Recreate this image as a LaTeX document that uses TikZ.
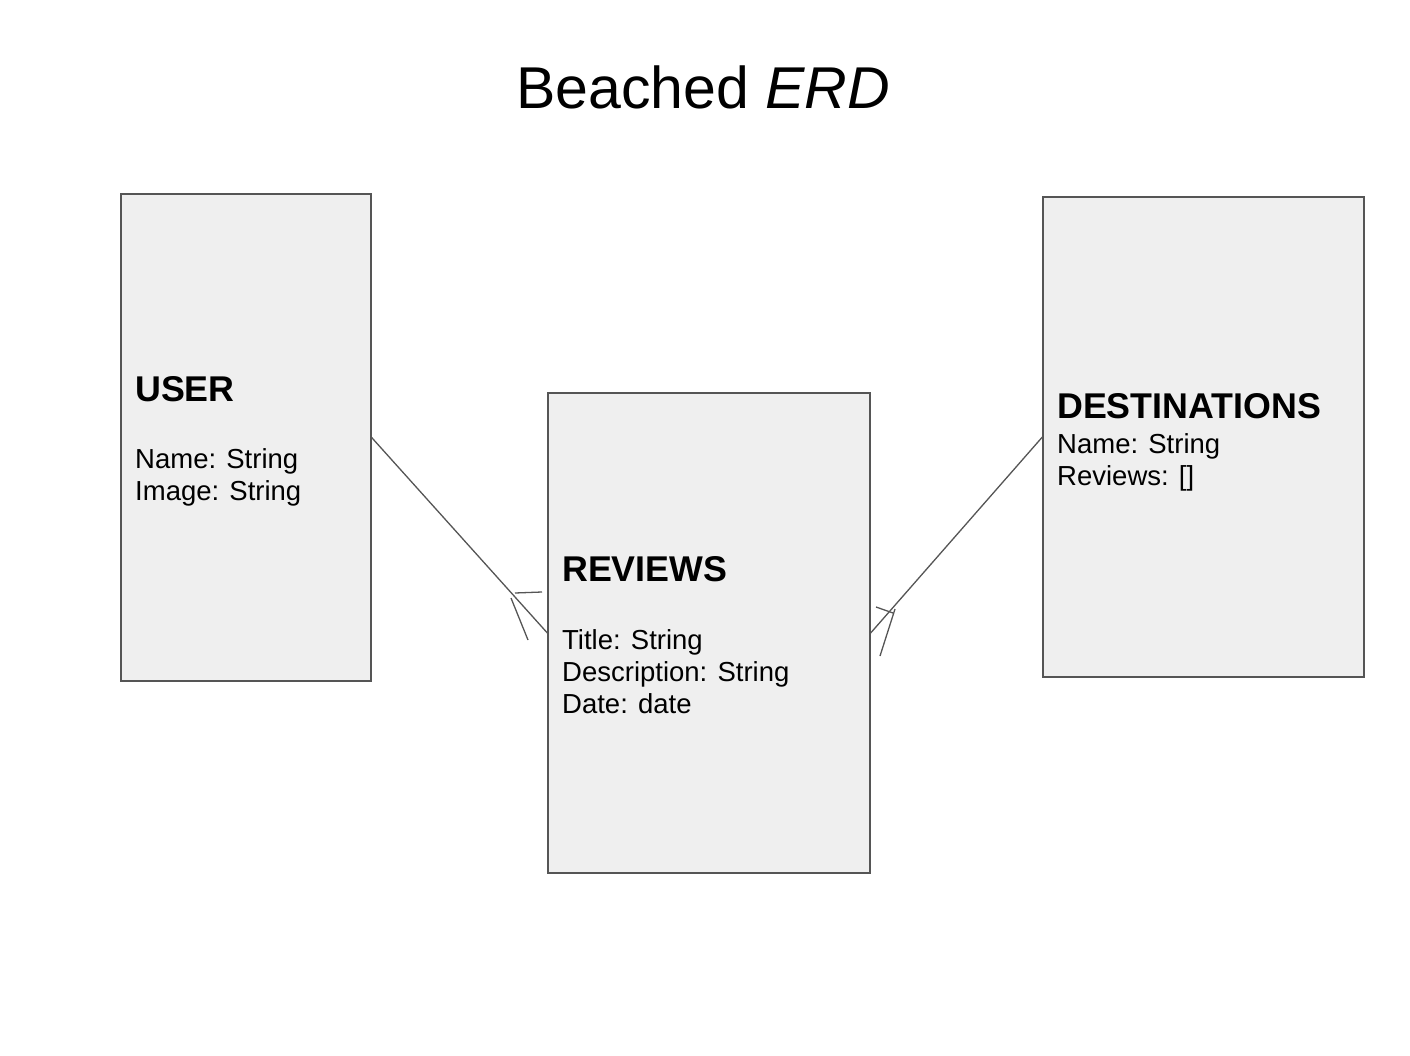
\documentclass[tikz,border=0pt]{standalone}
\usepackage{fontspec}
\setmainfont{Liberation Sans}
\definecolor{boxfill}{HTML}{EFEFEF}
\definecolor{boxline}{HTML}{555555}
\tikzset{
    entity/.style={rectangle, draw=boxline, fill=boxfill, line width=1.3pt,
    	inner sep=0pt}
}
\tikzset{
    label/.style={anchor=base west, inner sep=0pt,
    	font=\fontsize{27.5}{33}\selectfont}
}
\tikzset{
    header/.style={anchor=base west, inner sep=0pt,
    	font=\fontsize{35.8}{40}\selectfont\bfseries}
}
\tikzset{
    every edge/.append style={draw=boxline, line width=1.3pt}
}

\begin{document}
\begin{tikzpicture}[x=1pt,y=-1pt]
	\useasboundingbox (0,0) rectangle (1410,1056);
	\node (title) [anchor=base, inner sep=0pt, font=\fontsize{59}{66}\selectfont]
		at (703,109) {Beached \textit{ERD}};
	
	\node (user) [entity, minimum width=250, minimum height=487] at (246,437.5) {};
	\node (reviews) [entity, minimum width=322, minimum height=480] at (709,633) {};
	\node (dest) [entity, minimum width=321, minimum height=480] at (1203.5,437) {};
	
	\node (usrhead) [header] at (135,401) {USER};
	\node (usr1) [label] at (135,468) {Name: String};
	\node (usr2) [label] at (135,500) {Image: String};
	
	\node (revhead) [header] at (562,581) {REVIEWS};
	\node (rev1) [label] at (562,649) {Title: String};
	\node (rev2) [label] at (562,681) {Description: String};
	\node (rev3) [label] at (562,713) {Date: date};
	
	\node (desthead) [header] at (1057,418) {DESTINATIONS};
	\node (dest1) [label] at (1057,453) {Name: String};
	\node (dest2) [label] at (1057,485) {Reviews: []};
	
	\coordinate (l1) at (515,593); \coordinate (l2) at (542,592);
	\coordinate (l3) at (511,598); \coordinate (l4) at (528,640);
	\coordinate (r1) at (876,607); \coordinate (r2) at (893,613);
	\coordinate (r3) at (895,609); \coordinate (r4) at (880,656);
	
	\draw (user.east) edge (reviews.west); \draw (dest.west) edge (reviews.east);
	\draw (l1) edge (l2); \draw (l3) edge (l4);
	\draw (r1) edge (r2); \draw (r3) edge (r4);
\end{tikzpicture}
\end{document}
